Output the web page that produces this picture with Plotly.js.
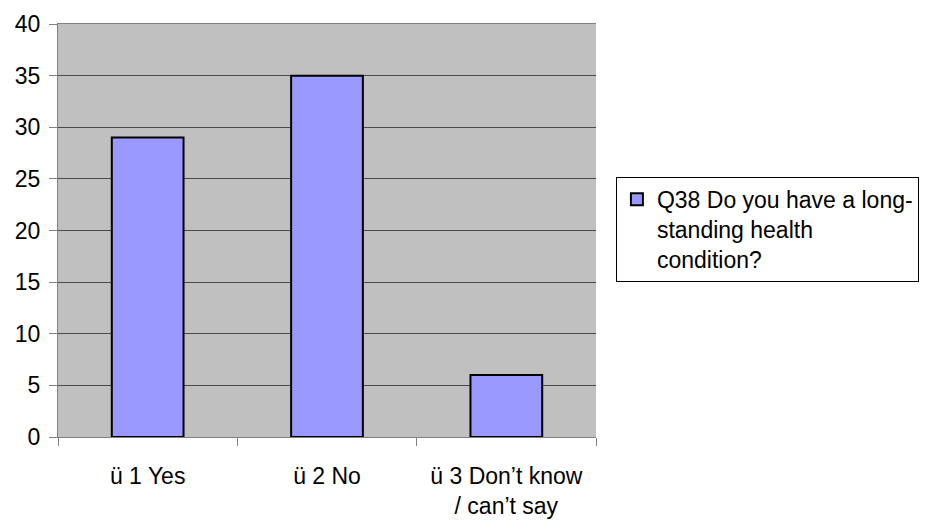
<!DOCTYPE html>
<html>
<head>
<meta charset="utf-8">
<script src="https://cdn.plot.ly/plotly-3.0.1.min.js"></script>
<style>html,body{margin:0;padding:0;background:#fff;}#chart{width:939px;height:525px;}</style>
</head>
<body>
<div id="chart"></div>
<script>
var categories = ["ü 1 Yes", "ü 2 No", "ü 3 Don’t know<br>/ can’t say"];
var values = [29, 35, 6];
var seriesName = "Q38 Do you have a long-<br>standing health<br>condition?";
var yTicks = [0, 5, 10, 15, 20, 25, 30, 35, 40];

var trace = {
  type: "bar",
  x: categories,
  y: values,
  name: seriesName,
  showlegend: true,
  marker: {color: "#9999FF", line: {color: "#000000", width: 2}},
  width: 0.4
};

var layout = {
  width: 939, height: 525,
  margin: {l: 58, r: 343, t: 24, b: 88},
  paper_bgcolor: "#ffffff",
  plot_bgcolor: "#C0C0C0",
  font: {family: "Liberation Sans, Arial, sans-serif", size: 23, color: "#000"},
  bargap: 0.6,
  xaxis: {
    type: "category",
    tickson: "boundaries",
    ticks: "outside", ticklen: 8, tickcolor: "#808080", tickwidth: 1,
    showline: true, linecolor: "#808080", linewidth: 1, mirror: true,
    showgrid: false,
    ticklabelstandoff: 18,
    tickfont: {size: 23}
  },
  yaxis: {
    range: [0, 40],
    tickvals: yTicks,
    ticks: "outside", ticklen: 8, tickcolor: "#808080", tickwidth: 1,
    showline: true, linecolor: "#808080", linewidth: 1,
    showgrid: true, gridcolor: "#4a4a4a", gridwidth: 1,
    zeroline: false,
    ticklabelstandoff: 4,
    tickfont: {size: 23}
  },
  legend: {
    x: 1.037, y: 0.63, xanchor: "left", yanchor: "top",
    bordercolor: "#000", borderwidth: 1, bgcolor: "#fff",
    valign: "top",
    font: {size: 23},
    itemwidth: 30,
    tracegroupgap: 0
  }
};

Plotly.newPlot("chart", [trace], layout, {displayModeBar: false, staticPlot: true});
</script>
</body>
</html>
